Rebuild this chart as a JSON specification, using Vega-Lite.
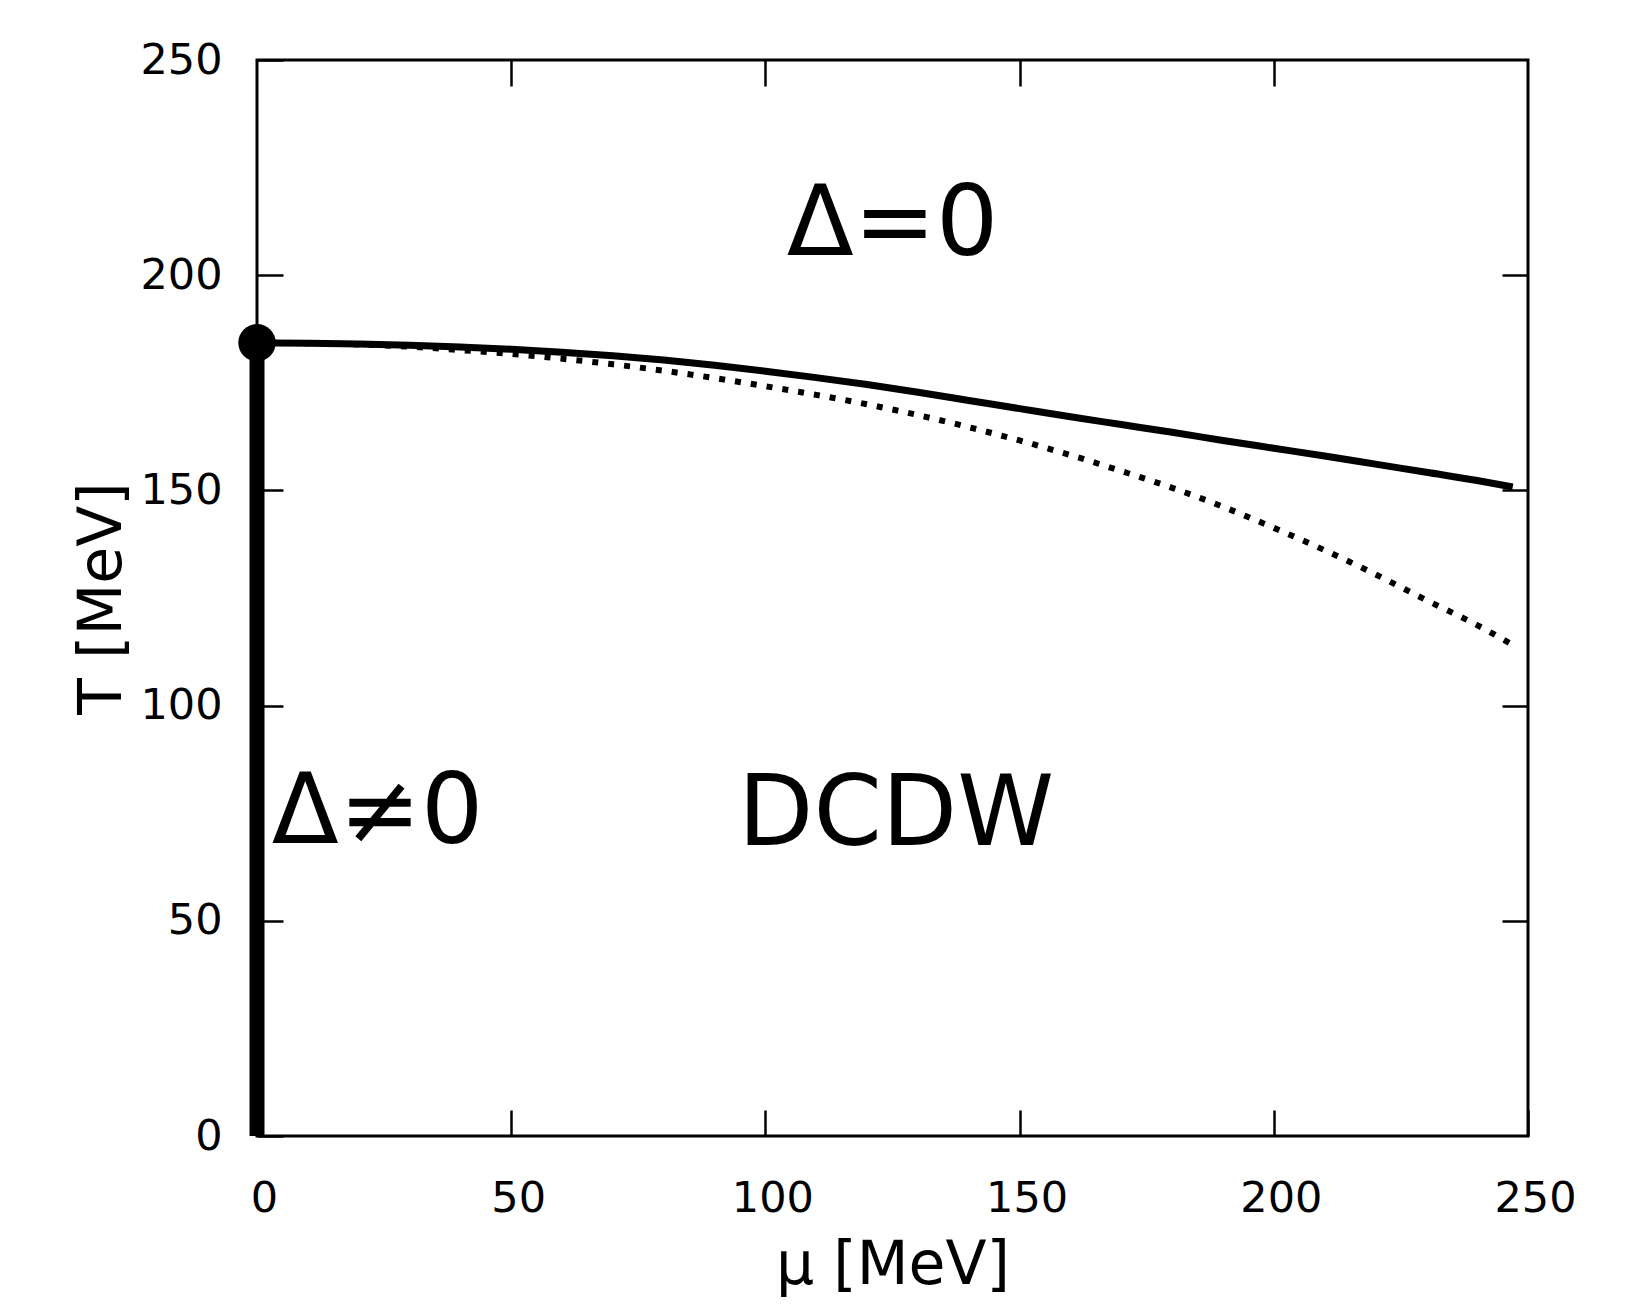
{
  "$schema": "https://vega.github.io/schema/vega-lite/v6.json",
  "autosize": {"type": "none"},
  "padding": {"left": 257, "top": 60, "right": 105, "bottom": 168},
  "width": 1271,
  "height": 1076,
  "background": "white",
  "config": {
    "view": {"stroke": "black", "strokeWidth": 3},
    "font": "DejaVu Sans",
    "axis": {
      "domain": false,
      "grid": false,
      "tickColor": "black",
      "tickWidth": 2.5,
      "tickSize": -26,
      "labelFont": "DejaVu Sans",
      "labelFontSize": 43,
      "labelColor": "black",
      "labelFlush": false,
      "labelOverlap": false,
      "titleFont": "DejaVu Sans",
      "titleFontSize": 60,
      "titleFontWeight": "normal",
      "titleColor": "black"
    }
  },
  "datasets": {
    "vline": [{"mu": 0, "T0": 0, "T1": 184.3}],
    "solid": [
      {"mu": 0, "T": 184.3}, {"mu": 10, "T": 184.2}, {"mu": 20, "T": 184.0}, {"mu": 30, "T": 183.7},
      {"mu": 40, "T": 183.3}, {"mu": 50, "T": 182.8}, {"mu": 60, "T": 182.1}, {"mu": 70, "T": 181.3},
      {"mu": 80, "T": 180.3}, {"mu": 90, "T": 179.1}, {"mu": 100, "T": 177.7}, {"mu": 110, "T": 176.2},
      {"mu": 120, "T": 174.6}, {"mu": 130, "T": 172.8}, {"mu": 140, "T": 170.9}, {"mu": 150, "T": 169.0},
      {"mu": 160, "T": 167.1}, {"mu": 170, "T": 165.3}, {"mu": 180, "T": 163.5}, {"mu": 190, "T": 161.6},
      {"mu": 200, "T": 159.8}, {"mu": 210, "T": 158.0}, {"mu": 220, "T": 156.1}, {"mu": 230, "T": 154.2},
      {"mu": 240, "T": 152.3}, {"mu": 247, "T": 150.8}
    ],
    "dotted": [
      {"mu": 0, "T": 184.3}, {"mu": 10, "T": 184.2}, {"mu": 20, "T": 183.9}, {"mu": 30, "T": 183.4},
      {"mu": 40, "T": 182.6}, {"mu": 50, "T": 181.7}, {"mu": 60, "T": 180.6}, {"mu": 70, "T": 179.3},
      {"mu": 80, "T": 177.8}, {"mu": 90, "T": 176.1}, {"mu": 100, "T": 174.2}, {"mu": 110, "T": 172.2},
      {"mu": 120, "T": 170.0}, {"mu": 130, "T": 167.5}, {"mu": 140, "T": 164.7}, {"mu": 150, "T": 161.6},
      {"mu": 160, "T": 158.2}, {"mu": 170, "T": 154.5}, {"mu": 180, "T": 150.6}, {"mu": 190, "T": 146.2},
      {"mu": 200, "T": 141.3}, {"mu": 210, "T": 136.1}, {"mu": 220, "T": 130.5}, {"mu": 230, "T": 124.5},
      {"mu": 240, "T": 118.7}, {"mu": 247, "T": 114.1}
    ],
    "point": [{"mu": 0, "T": 184.3}],
    "labels": [
      {"mu": 125, "T": 204.7, "text": "Δ=0", "align": "center"},
      {"mu": 125.7, "T": 67.6, "text": "DCDW", "align": "center"},
      {"mu": 2.9, "T": 68.1, "text": "Δ≠0", "align": "left"}
    ]
  },
  "resolve": {"axis": {"x": "independent", "y": "independent"}},
  "layer": [
    {
      "data": {"name": "vline"},
      "mark": {"type": "rule", "color": "black", "strokeWidth": 15, "strokeCap": "butt"},
      "encoding": {
        "x": {"field": "mu", "type": "quantitative", "scale": {"domain": [0, 250], "nice": false},
          "axis": {"orient": "bottom", "values": [0, 50, 100, 150, 200, 250], "labelPadding": 101, "labelBaseline": "alphabetic", "labelOffset": 7,
            "title": "μ [MeV]", "titleX": 635.5, "titleY": 147, "titleBaseline": "alphabetic", "titleAlign": "center"}},
        "y": {"field": "T0", "type": "quantitative", "scale": {"domain": [0, 250], "nice": false},
          "axis": {"orient": "left", "values": [0, 50, 100, 150, 200, 250], "labelPadding": 61,
            "title": "T [MeV]", "titleX": -137, "titleY": 538, "titleBaseline": "alphabetic", "titleAlign": "center", "titleAngle": -90}},
        "y2": {"field": "T1"}
      }
    },
    {
      "data": {"name": "solid"},
      "mark": {"type": "line", "color": "black", "strokeWidth": 7, "interpolate": "monotone"},
      "encoding": {
        "x": {"field": "mu", "type": "quantitative", "axis": null},
        "y": {"field": "T", "type": "quantitative", "axis": null}
      }
    },
    {
      "data": {"name": "dotted"},
      "mark": {"type": "line", "color": "black", "strokeWidth": 6, "strokeDash": [6, 10], "strokeCap": "butt", "interpolate": "monotone"},
      "encoding": {
        "x": {"field": "mu", "type": "quantitative", "axis": null},
        "y": {"field": "T", "type": "quantitative", "axis": null}
      }
    },
    {
      "data": {"name": "point"},
      "mark": {"type": "point", "shape": "circle", "filled": true, "color": "black", "opacity": 1, "size": 1400},
      "encoding": {
        "x": {"field": "mu", "type": "quantitative",
          "axis": {"orient": "top", "values": [50, 100, 150, 200], "labels": false, "title": null}},
        "y": {"field": "T", "type": "quantitative",
          "axis": {"orient": "right", "values": [50, 100, 150, 200], "labels": false, "title": null}}
      }
    },
    {
      "data": {"name": "labels"},
      "transform": [{"filter": "datum.align === 'center'"}],
      "mark": {"type": "text", "align": "center", "baseline": "alphabetic", "font": "DejaVu Sans", "fontSize": 98, "color": "black"},
      "encoding": {
        "x": {"field": "mu", "type": "quantitative", "axis": null},
        "y": {"field": "T", "type": "quantitative", "axis": null},
        "text": {"field": "text"}
      }
    },
    {
      "data": {"name": "labels"},
      "transform": [{"filter": "datum.align === 'left'"}],
      "mark": {"type": "text", "align": "left", "baseline": "alphabetic", "font": "DejaVu Sans", "fontSize": 98, "color": "black"},
      "encoding": {
        "x": {"field": "mu", "type": "quantitative", "axis": null},
        "y": {"field": "T", "type": "quantitative", "axis": null},
        "text": {"field": "text"}
      }
    }
  ]
}
